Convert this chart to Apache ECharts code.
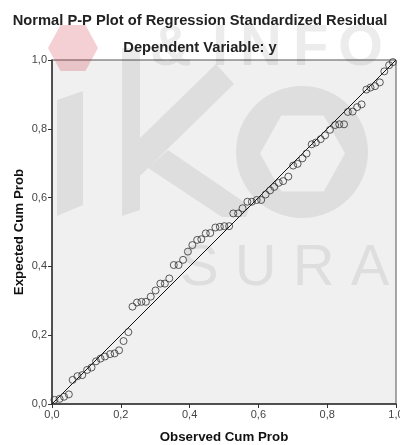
<!DOCTYPE html>
<html>
<head>
<meta charset="utf-8">
<script src="https://cdn.jsdelivr.net/npm/echarts@6/dist/echarts.min.js"></script>
<style>
  html, body { margin: 0; padding: 0; background: #ffffff; }
  #chart { width: 400px; height: 445px; }
</style>
</head>
<body>
<div id="chart"></div>
<script>
// Observed cumulative probability of the standardized residuals
var observedCumProb = [
  0.007, 0.022, 0.035, 0.049, 0.060, 0.074, 0.088, 0.102, 0.115, 0.128,
  0.141, 0.154, 0.169, 0.182, 0.195, 0.208, 0.222, 0.234, 0.247, 0.260,
  0.273, 0.287, 0.301, 0.315, 0.328, 0.341, 0.354, 0.368, 0.381, 0.395,
  0.408, 0.422, 0.434, 0.447, 0.460, 0.475, 0.488, 0.501, 0.515, 0.527,
  0.541, 0.554, 0.568, 0.581, 0.595, 0.608, 0.621, 0.634, 0.646, 0.659,
  0.672, 0.687, 0.701, 0.714, 0.728, 0.740, 0.755, 0.767, 0.781, 0.794,
  0.808, 0.823, 0.835, 0.849, 0.860, 0.874, 0.887, 0.900, 0.914, 0.926,
  0.939, 0.953, 0.966, 0.980, 0.991
];

// Expected cumulative probability under the normal distribution
var expectedCumProb = [
  0.012, 0.015, 0.021, 0.028, 0.070, 0.081, 0.084, 0.099, 0.106, 0.124,
  0.132, 0.138, 0.145, 0.147, 0.156, 0.183, 0.209, 0.283, 0.295, 0.297,
  0.297, 0.312, 0.330, 0.350, 0.350, 0.365, 0.404, 0.404, 0.419, 0.443,
  0.462, 0.477, 0.479, 0.496, 0.497, 0.513, 0.515, 0.517, 0.517, 0.554,
  0.554, 0.569, 0.588, 0.588, 0.593, 0.593, 0.609, 0.621, 0.631, 0.643,
  0.648, 0.661, 0.693, 0.698, 0.714, 0.728, 0.755, 0.760, 0.770, 0.781,
  0.797, 0.811, 0.813, 0.813, 0.849, 0.850, 0.863, 0.871, 0.914, 0.920,
  0.924, 0.935, 0.967, 0.985, 0.994
];

// Diagonal reference line (perfect normality)
var diagonalStart = [0, 0];
var diagonalEnd = [1, 1];

// Axis ticks
var tickValues = [0, 0.2, 0.4, 0.6, 0.8, 1.0];

var titleText = 'Normal P-P Plot of Regression Standardized Residual';
var subtitleText = 'Dependent Variable: y';

// Faint background watermark words
var watermarkTopLetters = ['&', 'I', 'N', 'F', 'O'];
var watermarkMiddle = 'S U R A';

var points = observedCumProb.map(function (x, i) { return [x, expectedCumProb[i]]; });

function commaDecimal(v) {
  return v.toFixed(1).replace('.', ',');
}

var font = '"Liberation Sans", Arial, sans-serif';

function axisCommon(name, nameGap) {
  return {
    type: 'value',
    min: tickValues[0],
    max: tickValues[tickValues.length - 1],
    interval: tickValues[1] - tickValues[0],
    name: name,
    nameLocation: 'middle',
    nameGap: nameGap,
    nameMoveOverlap: false,
    nameTextStyle: { fontFamily: font, fontWeight: 'bold', fontSize: 13.3, color: '#111' },
    axisLine: { show: true, lineStyle: { color: '#333', width: 1.5 } },
    axisTick: { show: true, inside: false, length: 4, lineStyle: { color: '#333', width: 1 } },
    axisLabel: { formatter: commaDecimal, fontFamily: font, fontSize: 11, color: '#444', margin: 5 },
    splitLine: { show: false }
  };
}

// ---- faint logo watermark behind the plot ----
var shade = 'rgba(0,0,0,0.075)';

function hexagon(cx, cy, r, ry) {
  var pts = [];
  for (var k = 0; k < 6; k++) {
    var a = Math.PI / 3 * k;
    pts.push([cx + r * Math.cos(a), cy + ry / (Math.sqrt(3) / 2) * Math.sin(a)]);
  }
  return pts;
}

var watermarkGraphics = [];

// pink hexagon of the logo
watermarkGraphics.push({
  type: 'polygon', z: 1, silent: true,
  shape: { points: hexagon(73, 48, 25, 23) },
  style: { fill: 'rgba(205,40,60,0.22)' }
});
// "i" bar
watermarkGraphics.push({
  type: 'polygon', z: 1, silent: true,
  shape: { points: [[57, 100], [83, 91], [83, 205], [57, 216]] },
  style: { fill: shade }
});
// "k" stem and arms
watermarkGraphics.push({
  type: 'polygon', z: 1, silent: true,
  shape: { points: [[122, 48], [140, 48], [140, 210], [122, 216]] },
  style: { fill: shade }
});
watermarkGraphics.push({
  type: 'polygon', z: 1, silent: true,
  shape: { points: [[140, 138], [140, 176], [234, 84], [216, 64]] },
  style: { fill: shade }
});
watermarkGraphics.push({
  type: 'polygon', z: 1, silent: true,
  shape: { points: [[148, 168], [168, 150], [250, 206], [246, 217], [222, 217]] },
  style: { fill: shade }
});
// "o" ring with a hexagonal hole
watermarkGraphics.push({
  type: 'circle', z: 1, silent: true,
  shape: { cx: 302, cy: 152, r: 66 },
  style: { fill: shade }
});
watermarkGraphics.push({
  type: 'polygon', z: 1, silent: true,
  shape: { points: hexagon(302.5, 153.5, 42.5, 38) },
  style: { fill: '#f0f0f0' }
});

// spread-out header letters
var topLetterLeft = [150, 212, 240, 293, 338];
watermarkTopLetters.forEach(function (ch, i) {
  watermarkGraphics.push({
    type: 'text',
    left: topLetterLeft[i],
    top: 20,
    z: 1,
    silent: true,
    style: { text: ch, fontFamily: font, fontWeight: 'bold', fontSize: 58, fill: 'rgba(0,0,0,0.075)' }
  });
});
watermarkGraphics.push({
  type: 'text',
  left: 180,
  top: 240,
  z: 1,
  silent: true,
  style: { text: watermarkMiddle, fontFamily: font, fontWeight: 'normal', fontSize: 58, fill: 'rgba(0,0,0,0.075)' }
});

var chart = echarts.init(document.getElementById('chart'), null, { renderer: 'canvas' });

chart.setOption({
  backgroundColor: '#ffffff',
  animation: false,
  title: [
    {
      text: titleText,
      left: 'center',
      top: 8,
      z: 6,
      textStyle: { fontFamily: font, fontWeight: 'bold', fontSize: 14.7, color: '#222' }
    },
    {
      text: subtitleText,
      left: 'center',
      top: 35,
      z: 6,
      textStyle: { fontFamily: font, fontWeight: 'bold', fontSize: 14.7, color: '#222' }
    }
  ],
  grid: {
    left: 52,
    top: 60,
    width: 344,
    height: 344,
    outerBoundsMode: 'none',
    containLabel: false,
    show: true,
    backgroundColor: '#f0f0f0',
    borderColor: '#555',
    borderWidth: 1
  },
  graphic: watermarkGraphics,
  xAxis: axisCommon('Observed Cum Prob', 27),
  yAxis: axisCommon('Expected Cum Prob', 26),
  series: [
    {
      type: 'line',
      data: [diagonalStart, diagonalEnd],
      symbol: 'none',
      lineStyle: { color: '#111', width: 1 },
      z: 2
    },
    {
      type: 'scatter',
      data: points,
      symbol: 'circle',
      symbolSize: 7,
      itemStyle: { color: 'rgba(0,0,0,0)', borderColor: '#333', borderWidth: 1 },
      z: 3
    }
  ]
});
</script>
</body>
</html>
